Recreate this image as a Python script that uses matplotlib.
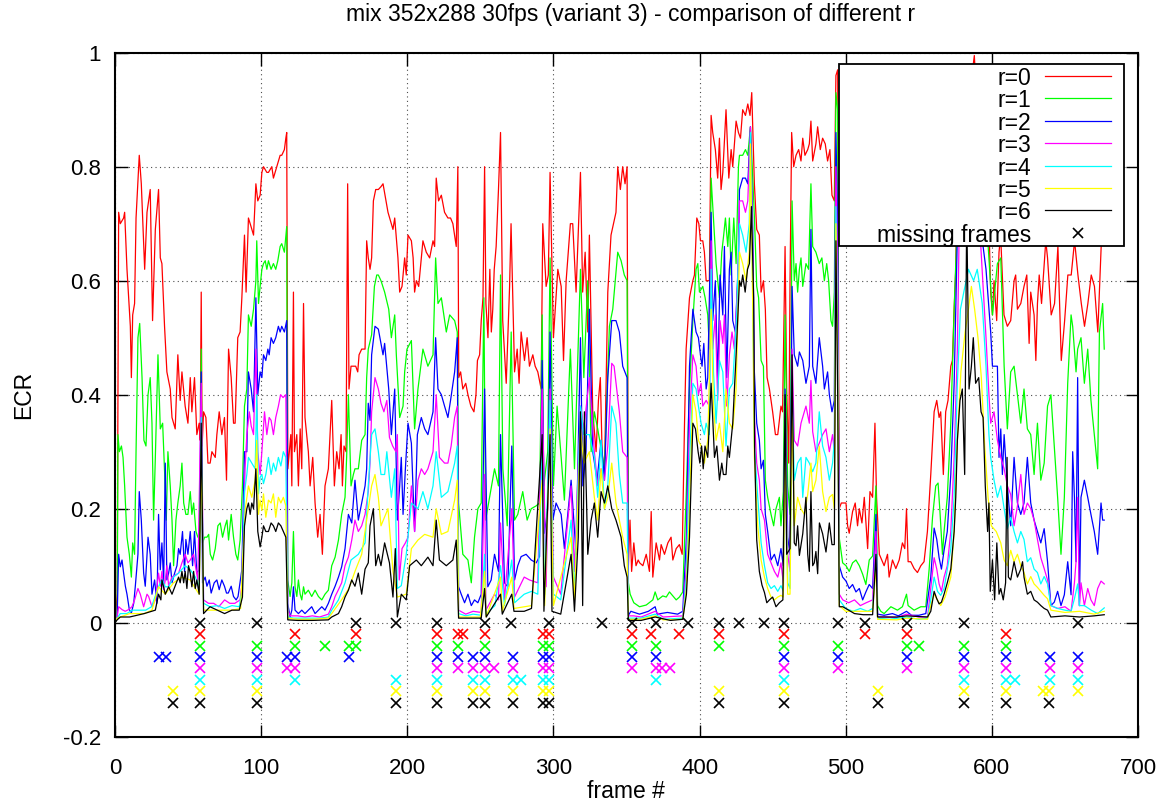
import matplotlib.pyplot as plt
from matplotlib.patches import Rectangle
from matplotlib.lines import Line2D

plt.rcParams['font.family'] = ['Liberation Sans', 'DejaVu Sans']

title = "mix 352x288 30fps (variant 3) - comparison of different r"
labels = ["r=0", "r=1", "r=2", "r=3", "r=4", "r=5", "r=6"]
colors = ["#ff0000", "#00ff00", "#0000ff", "#ff00ff", "#00ffff", "#ffff00", "#000000"]
xticks = [0, 100, 200, 300, 400, 500, 600, 700]
yticks = [-0.2, 0, 0.2, 0.4, 0.6, 0.8, 1]

# (frame, ECR)
r0 = [(0,0.0),(1.5,0.05),(2.5,0.72),(3.6,0.70),(5.9,0.71),(6.6,0.72),(8.2,0.62),(10.5,0.52),(11.2,0.43),(12.1,0.54),(13.4,0.56),(14.4,0.71),(16.6,0.82),(18,0.77),(20.3,0.62),(21.9,0.72),(24.1,0.76),(25.7,0.53),(27.6,0.69),(29.8,0.76),(31,0.64),(32.1,0.63),(33.9,0.52),(35.5,0.44),(37.8,0.41),(39,0.36),(41.2,0.34),(43,0.47),(44.6,0.39),(45.8,0.44),(48,0.38),(49.9,0.35),(51.5,0.43),(52.6,0.37),(54.4,0.43),(56,0.33),(57.6,0.35),(58.3,0.32),(59,0.58),(59.6,0.31),(60.6,0.37),(62.2,0.36),(63.6,0.28),(65.1,0.28),(66.3,0.30),(68.6,0.29),(69.7,0.33),(71.3,0.37),(73.1,0.33),(74.9,0.36),(76.3,0.25),(77.7,0.48),(79.5,0.43),(81.1,0.35),(82.2,0.35),(84,0.50),(85.6,0.51),(86.8,0.57),(88.6,0.68),(89.7,0.58),(91.3,0.71),(92.5,0.70),(94.8,0.68),(96.4,0.77),(97.7,0.74),(99.3,0.75),(100.5,0.79),(101.6,0.80),(103.9,0.79),(105,0.79),(107.3,0.80),(108.4,0.78),(110.7,0.80),(111.8,0.81),(113,0.82),(114.1,0.82),(115.9,0.83),(116.9,0.85),(117.5,0.86),
      (118.3,0.27),(120.3,0.33),(121,0.24),(122.1,0.58),(122.8,0.30),(124.4,0.33),(125.5,0.24),(126.7,0.34),(127.8,0.27),(129,0.56),(130,0.36),(132.3,0.30),(133.5,0.24),(135.3,0.29),(136.9,0.21),(138.7,0.15),(140.3,0.19),(141.9,0.12),(143.7,0.24),(146,0.27),(148.3,0.39),(149.4,0.30),(150.1,0.24),(151.7,0.30),(153.3,0.27),(154.7,0.33),(155.6,0.24),(156.7,0.31),(158.1,0.30),(159.2,0.77),(160.1,0.41),(161.5,0.45),(163.1,0.45),(164.7,0.45),(166.1,0.44),(167,0.47),(168.8,0.48),(171.1,0.48),(172.2,0.67),(173.3,0.64),(174.5,0.62),(175.6,0.64),(176.8,0.74),(178.4,0.76),(180.2,0.76),(182,0.765),
      (183.4,0.77),(186.8,0.72),(190.2,0.69),(191.4,0.71),(193.6,0.64),(194.8,0.58),(196.4,0.59),(198.2,0.64),(199.3,0.61),(200.5,0.68),(202.8,0.67),(204,0.64),(205,0.58),(206.2,0.60),(207.8,0.59),(209.6,0.64),(210.7,0.67),(213,0.65),(215.3,0.64),(217.6,0.67),(218.7,0.66),(219.8,0.78),(221.4,0.74),(223.3,0.75),(225.5,0.72),(227.8,0.71),(229.6,0.71),(231.2,0.70),(233.5,0.66),(234.6,0.80),(235.2,0.43),(236.5,0.44),(238,0.41),(240,0.42),(241.5,0.40),(243.5,0.38),(245.6,0.37),(247,0.40),(248,0.46),(249.5,0.47),(250.6,0.53),(251.8,0.57),(252.9,0.80),(253.8,0.56),(255.2,0.50),(256.5,0.62),(257.5,0.51),(258.5,0.55),(259.5,0.62),(260.8,0.66),(262.4,0.76),(263.8,0.86),(265.3,0.53),(267.7,0.42),(270,0.59),(271,0.70),(273.4,0.44),(275.2,0.48),(276.5,0.42),(277.9,0.51),(280.2,0.46),(282,0.50),(283.6,0.45),(285.9,0.47),(287.5,0.45),(289.3,0.44),(291.6,0.41),(292.7,0.70),(295,0.59),(296.5,0.61),(297.7,0.79),(300,0.50),(303,0.62),(305.3,0.59),(306.9,0.46),(308.7,0.60),(311.6,0.70),(313.2,0.70),(315.5,0.58),(318.5,0.79),(320,0.58),(321.7,0.65),(323.5,0.51),(324.6,0.68),(326.9,0.37),(329.2,0.30),(330.8,0.39),(332.1,0.43),(333.3,0.30),(334.9,0.26),(337.2,0.58),(339.4,0.68),(342.8,0.72),(344,0.80),(345.8,0.76),(347.4,0.80),(349,0.77),(350.4,0.80),(351.3,0.10),
      (352.4,0.18),(353.5,0.09),(355,0.14),(356.5,0.10),(358,0.11),(359,0.105),(361.2,0.10),(363.5,0.12),(365.7,0.09),(366.9,0.195),(368,0.08),(370.3,0.14),(372.6,0.11),(373.7,0.137),(376,0.12),(378.3,0.14),(380.5,0.15),(381.7,0.11),(384,0.13),(386.2,0.137),(388.1,0.12),(389.7,0.35),(390.8,0.48),(393.1,0.57),(395.4,0.60),(396.5,0.61),(398.1,0.71),(399.5,0.70),(400.6,0.67),(402.2,0.67),(403.3,0.65),(404.5,0.60),(405.6,0.60),(406.7,0.60),(407.9,0.89),(409,0.86),(410.8,0.83),(412.4,0.78),(413.6,0.85),(414.7,0.76),(415.9,0.79),(418.1,0.90),(420,0.78),(421.6,0.83),(422.7,0.80),(425,0.88),(426.6,0.86),(428,0.85),(429.5,0.90),(431.4,0.89),(433,0.91),(434.5,0.89),(435.7,0.93),(437.5,0.77),(439.1,0.69),(440.9,0.68),(442.1,0.58),(443.7,0.60),(445,0.55),(446.2,0.43),(447.8,0.41),(450,0.37),(451.9,0.33),(453.5,0.33),(455.7,0.38),(456.8,0.37),(458.5,0.66),(459.6,0.41),(461,0.28),(461.9,0.60),(463,0.86),(464.4,0.80),(466,0.82),(467.8,0.83),(469.4,0.81),(470.6,0.85),(472.1,0.82),(474,0.83),(475.1,0.84),(476.2,0.88),(477.4,0.81),(479.6,0.84),(480.8,0.87),(482.6,0.83),(484.2,0.85),(486,0.84),(487.6,0.81),(489.2,0.83),(490.6,0.75),(492.2,0.74),(493.3,0.96),(494.5,0.97),
      (495.5,0.20),(497,0.21),(500.2,0.21),(501.3,0.17),(502.4,0.157),(504.7,0.195),(506.5,0.21),(508.1,0.17),(509.3,0.20),(511.1,0.175),(512.7,0.22),(515,0.13),(516.6,0.23),(518.4,0.22),(520,0.35),(521.1,0.22),(523,0.12),(526.3,0.10),(528.6,0.12),(529.7,0.08),(532,0.11),(534.3,0.095),(536.6,0.11),(538.8,0.14),(540.4,0.13),(541.6,0.20),(542.7,0.107),(544.5,0.107),(546.8,0.095),(549.1,0.088),(551.4,0.10),(553.6,0.107),(555.9,0.16),(558.2,0.26),(560.5,0.37),(562.3,0.39),(563.9,0.36),(565,0.37),(566.8,0.26),(568.4,0.37),(570,0.39),(571.9,0.45),(573,0.46),(574.2,0.55),(575.3,0.62),(576.4,0.81),(577.6,0.97),(580,0.9),(583,0.85),(585,0.93),(588,0.995),(590,0.9),(593,0.8),(596,0.75),(598,0.7),
      (599.2,0.58),(600.4,0.54),(601.5,0.60),(603.3,0.53),(604.9,0.65),(606,0.68),(608.3,0.54),(610.6,0.52),(612.9,0.53),(615.2,0.60),(616.3,0.61),(617.5,0.55),(619.8,0.56),(622,0.59),(623.9,0.61),(625.5,0.49),(626.6,0.58),(628.9,0.54),(630.1,0.46),(631.2,0.56),(632.4,0.61),(634,0.56),(635.8,0.63),(636.9,0.67),(638.1,0.64),(640.6,0.54),(642.9,0.56),(645.2,0.66),(647.5,0.46),(649.8,0.53),(652,0.61),(654.3,0.61),(656.6,0.67),(658.9,0.61),(661.2,0.56),(663.4,0.52),(665.7,0.56),(668,0.61),(670.2,0.59),(672.5,0.51),(674.8,0.66),(676.9,0.72)]

r1 = [(0,0),(1.5,0.01),(2,0.33),(3,0.30),(4.4,0.31),(5.5,0.29),(6.6,0.24),(8.2,0.15),(9.8,0.12),(11.2,0.08),(12.1,0.14),(13.4,0.12),(14.4,0.30),(15.7,0.50),(16.9,0.525),(18.5,0.43),(19.8,0.32),(21.2,0.31),(22.6,0.40),(24.1,0.43),(25.3,0.35),(26.4,0.18),(27.6,0.29),(29.4,0.47),(31,0.34),(32.6,0.35),(34,0.26),(35.1,0.18),(36.2,0.30),(37.8,0.24),(39,0.18),(40.1,0.10),(41.7,0.18),(43,0.21),(44.6,0.24),(45.8,0.28),(47,0.21),(48.5,0.19),(49.9,0.19),(51.5,0.23),(52.6,0.19),(53.8,0.21),(55.4,0.16),(56.7,0.15),(58.3,0.16),(59,0.48),(59.9,0.14),(61.3,0.15),(62.9,0.15),(64.1,0.155),(65.2,0.12),(66.8,0.11),(68.6,0.13),(70.4,0.17),(72,0.175),(73.6,0.15),(75.4,0.17),(76.6,0.18),(77.7,0.145),(79.5,0.19),(81.1,0.15),(82.7,0.12),(84,0.11),(85.6,0.145),(87.2,0.24),(88.6,0.38),(90.2,0.41),(91.3,0.54),(93.2,0.52),(94.8,0.55),(96.4,0.60),(97,0.67),(98.2,0.56),(99.3,0.59),(100.5,0.62),(101.6,0.63),(102.8,0.635),(103.9,0.62),(105,0.635),(106.8,0.62),(108.4,0.63),(110,0.62),(111.4,0.635),(113,0.66),(114.1,0.665),(115.9,0.65),(117.5,0.695),
      (118.2,0.075),(119.8,0.046),(121,0.07),(122.1,0.16),(123.2,0.063),(124.4,0.046),(125.5,0.075),(126.7,0.05),(127.8,0.04),(129,0.063),(130,0.05),(132.3,0.057),(134.6,0.046),(136.9,0.057),(139.2,0.046),(141.5,0.04),(143.7,0.05),(146,0.057),(148.3,0.10),(150.6,0.115),(152.9,0.145),(155.1,0.19),(157.4,0.22),(158.5,0.29),(159.7,0.40),(161.5,0.24),(163.1,0.26),(164.2,0.27),(166.5,0.27),(168.8,0.32),(171.1,0.33),(172.2,0.43),(173.3,0.48),(175.6,0.505),(177.5,0.59),(179.1,0.61),(180.2,0.61),(182,0.60),
      (184.5,0.58),(187.3,0.55),(189.1,0.50),(191.4,0.54),(192.5,0.47),(194.8,0.36),(197.1,0.38),(198.2,0.44),(199.8,0.48),(202.8,0.495),(205,0.34),(207.3,0.41),(210.7,0.48),(214.1,0.45),(217.6,0.47),(219.4,0.64),(221,0.56),(223.3,0.57),(226.7,0.51),(229,0.54),(232.4,0.53),(234.2,0.51),(235.1,0.21),(238,0.12),(241.5,0.11),(243.8,0.07),(246,0.15),(248.3,0.20),(250.6,0.21),(252.4,0.57),(253.6,0.18),(256.3,0.22),(259.7,0.27),(262.4,0.24),(263.8,0.61),(265.4,0.27),(268.4,0.17),(271.1,0.51),(273.4,0.18),(275.6,0.19),(279,0.23),(282,0.18),(284.8,0.20),(288.2,0.205),(290.5,0.21),(292.3,0.54),(293.4,0.24),(296.1,0.30),(297.7,0.64),(300,0.24),(302.5,0.38),(305.3,0.29),(307.5,0.215),(311.6,0.48),(314.4,0.27),(318.5,0.62),(320.8,0.43),(323.5,0.60),(325.8,0.30),(328,0.37),(330.3,0.34),(334.9,0.27),(338.3,0.52),(340.6,0.55),(344,0.65),(346.3,0.635),(348.5,0.61),(350.4,0.60),(351.3,0.07),
      (352.5,0.05),(355,0.035),(358.9,0.028),(363.5,0.031),(368,0.04),(369.6,0.054),(371.4,0.04),(374.8,0.047),(377.2,0.045),(379.4,0.054),(381.7,0.047),(384,0.04),(386.2,0.045),(388.5,0.054),(390.8,0.22),(393.1,0.41),(395.4,0.53),(397.6,0.62),(398.8,0.63),(399.9,0.58),(402.2,0.59),(403.8,0.57),(405.6,0.54),(406.7,0.48),(407.9,0.78),(409.5,0.71),(411.3,0.63),(413.6,0.57),(415.2,0.65),(416.5,0.68),(417.7,0.71),(419.3,0.66),(420.4,0.71),(421.6,0.61),(423.4,0.71),(425,0.63),(426.6,0.80),(427.3,0.82),(429.5,0.82),(431.4,0.83),(433,0.82),(434.8,0.87),(436.4,0.78),(437.7,0.70),(439.1,0.59),(440.4,0.57),(442.1,0.46),(443.7,0.45),(445,0.25),(446.6,0.22),(448.9,0.19),(450.7,0.17),(452.3,0.20),(454.6,0.22),(455.7,0.17),(457.3,0.23),(458.5,0.54),(460.3,0.24),(461.9,0.19),(463.3,0.74),(464.8,0.60),(466,0.63),(467.1,0.58),(468.3,0.62),(469.4,0.64),(470.6,0.59),(472.8,0.63),(474.6,0.62),(476.2,0.77),(477.4,0.66),(479.6,0.65),(481.9,0.63),(483.7,0.64),(485.4,0.60),(487,0.63),(488.3,0.60),(489.9,0.53),(491,0.52),(492.2,0.58),(493.3,0.93),(494.5,0.9),
      (495.2,0.156),(497.9,0.105),(500.2,0.10),(502.4,0.09),(504.7,0.105),(507,0.11),(509.3,0.10),(511.6,0.085),(513.8,0.067),(516.1,0.11),(518.4,0.117),(520.7,0.24),(521.8,0.03),(524,0.02),(526.3,0.016),(530.9,0.028),(535.4,0.022),(538.8,0.028),(541.6,0.05),(542.7,0.03),(546.8,0.022),(551.4,0.028),(554.8,0.028),(557.1,0.094),(559.4,0.185),(561.6,0.24),(563.2,0.245),(564.6,0.19),(566.2,0.12),(567.3,0.16),(569.5,0.22),(571.9,0.35),(574.2,0.55),(576,0.68),(577.6,0.9),(582,0.85),(586,0.8),(590,0.75),(594,0.7),(597,0.68),
      (600.4,0.54),(603.8,0.63),(606.1,0.64),(608.4,0.45),(610.6,0.34),(612.9,0.44),(615.2,0.45),(617.5,0.40),(619.8,0.35),(622,0.41),(624.3,0.34),(626.6,0.33),(628.9,0.26),(631.2,0.35),(633.5,0.25),(635.8,0.28),(638.1,0.38),(640.4,0.40),(642.7,0.31),(645,0.22),(647.3,0.12),(649.6,0.22),(651.9,0.42),(654.2,0.54),(655.3,0.52),(657.6,0.44),(658.7,0.48),(661,0.50),(663.3,0.42),(665.6,0.48),(667.8,0.39),(670.1,0.33),(672.4,0.27),(673.6,0.51),(675.8,0.56),(676.9,0.48)]

r2 = [(0,0),(1.5,0.01),(2.5,0.12),(3.6,0.098),(4.8,0.11),(5.9,0.087),(7.1,0.064),(8.2,0.05),(9.8,0.023),(11.2,0.017),(12.8,0.034),(13.9,0.064),(15.7,0.12),(16.6,0.23),(18,0.18),(19.6,0.087),(20.7,0.064),(22.6,0.15),(24.1,0.12),(25.3,0.05),(27.1,0.075),(28.7,0.034),(29.8,0.19),(31,0.093),(32.1,0.14),(33.3,0.07),(34.4,0.28),(35.5,0.075),(36.7,0.087),(37.8,0.105),(39,0.07),(40.8,0.087),(42.4,0.1),(43.5,0.13),(44.6,0.12),(46.2,0.16),(47.6,0.09),(48.5,0.146),(49.9,0.12),(51.5,0.16),(53.1,0.1),(54.4,0.16),(56,0.087),(57.6,0.093),(59,0.44),(59.9,0.07),(61.7,0.08),(62.9,0.064),(64.5,0.075),(65.8,0.052),(67.9,0.07),(69.7,0.075),(71.3,0.058),(73.1,0.075),(74.9,0.064),(76.3,0.052),(77.5,0.052),(79.5,0.064),(81.1,0.046),(82.9,0.04),(84.2,0.046),(86.8,0.093),(88.6,0.30),(90.2,0.30),(91.3,0.44),(93.2,0.41),(94.8,0.37),(96.4,0.57),(97.7,0.40),(99.3,0.44),(100.5,0.43),(101.6,0.47),(103.2,0.46),(104.6,0.48),(105.5,0.47),(106.8,0.50),(108.4,0.49),(110,0.50),(111.8,0.52),(113,0.51),(114.1,0.52),(115.9,0.51),(117.5,0.53),
      (118.2,0.034),(119.8,0.01),(121,0.022),(122.1,0.063),(123.2,0.022),(125.5,0.016),(127.8,0.022),(130,0.016),(132.3,0.022),(134.6,0.028),(136.9,0.016),(139.2,0.022),(141.5,0.028),(143.7,0.022),(146,0.034),(148.3,0.05),(150.6,0.064),(152.9,0.08),(155.1,0.098),(157.4,0.13),(159.7,0.19),(162,0.175),(164.2,0.25),(166.5,0.18),(168.8,0.21),(171.1,0.24),(172.2,0.27),(173.3,0.385),(174.5,0.355),(175.6,0.47),(177.9,0.52),(180.2,0.515),(182,0.49),
      (183.4,0.47),(184.5,0.49),(187.3,0.41),(189.1,0.33),(191.4,0.41),(193.2,0.18),(194.8,0.24),(195.9,0.29),(197.1,0.19),(198.7,0.27),(200.5,0.35),(202.8,0.315),(205,0.16),(206.9,0.33),(209.6,0.36),(211.9,0.34),(214.1,0.33),(217.6,0.37),(219.4,0.50),(221,0.41),(223.3,0.40),(225.5,0.38),(227.8,0.36),(229.6,0.39),(232.4,0.44),(234.2,0.50),(235.1,0.063),(236.9,0.05),(239.2,0.035),(241.5,0.05),(243.8,0.03),(246,0.04),(248.3,0.035),(250.6,0.05),(252.9,0.41),(255.1,0.063),(257.4,0.075),(259.7,0.12),(262.4,0.09),(263.8,0.33),(266.5,0.07),(268.8,0.063),(271.5,0.31),(273.4,0.075),(275.6,0.1),(277.9,0.116),(281.3,0.12),(284.8,0.11),(288.2,0.105),(290.5,0.116),(292.3,0.46),(293.9,0.157),(296.1,0.2),(297.7,0.51),(299.6,0.18),(301.8,0.21),(305.3,0.19),(307.5,0.13),(312.1,0.25),(315.5,0.12),(318.5,0.50),(320.1,0.24),(322.3,0.30),(324.6,0.55),(326.9,0.30),(329.9,0.25),(332.6,0.32),(334.9,0.25),(337.2,0.43),(339.9,0.53),(342.8,0.53),(345.1,0.51),(347.4,0.45),(350.4,0.43),(351.3,0.013),
      (353,0.02),(358.9,0.015),(365,0.02),(369.6,0.028),(371,0.015),(378,0.018),(385,0.015),(388.5,0.02),(391,0.15),(393.1,0.45),(395.4,0.55),(397.6,0.51),(399.2,0.50),(400.6,0.47),(401.7,0.45),(402.9,0.49),(404.5,0.41),(405.6,0.43),(407.9,0.72),(409,0.53),(410.8,0.60),(412.4,0.42),(414,0.61),(415.9,0.54),(417,0.66),(418.6,0.43),(420.4,0.62),(421.6,0.65),(422.7,0.53),(424.5,0.51),(426.6,0.64),(427.3,0.76),(429.5,0.78),(431.4,0.78),(433,0.77),(434.8,0.87),(436.4,0.69),(437.5,0.44),(439.1,0.35),(440.9,0.32),(442.1,0.27),(443.7,0.285),(445,0.19),(446.6,0.16),(448.9,0.11),(451.2,0.12),(453.5,0.10),(455.7,0.13),(457.3,0.10),(458.5,0.41),(460.3,0.15),(461.9,0.12),(463.3,0.59),(464.8,0.47),(467.1,0.45),(468.3,0.475),(470.6,0.46),(472.8,0.42),(475.1,0.45),(476.2,0.69),(477.4,0.45),(479.6,0.42),(481.9,0.50),(484.2,0.45),(485.4,0.41),(487.6,0.44),(488.8,0.40),(490.6,0.37),(492.2,0.39),(493.3,0.86),(494.5,0.7),
      (495.6,0.10),(497.9,0.08),(500.2,0.073),(502.4,0.06),(504.7,0.067),(507,0.054),(509.3,0.06),(511.6,0.04),(513.8,0.054),(516.1,0.067),(518.4,0.06),(520.7,0.19),(521.8,0.015),(526.3,0.013),(532,0.016),(536,0.012),(541.6,0.02),(545,0.013),(550,0.013),(554.8,0.016),(558.2,0.08),(560.5,0.166),(562.3,0.146),(563.9,0.114),(565.5,0.094),(567.3,0.127),(569.5,0.16),(571.9,0.26),(574.2,0.42),(576.4,0.68),(577.6,0.85),(581,0.8),(585,0.85),(588,0.78),(592,0.7),(596,0.62),(598,0.55),
      (599.2,0.51),(600.4,0.45),(603.8,0.45),(604.9,0.29),(606.1,0.34),(607.2,0.26),(608.4,0.33),(610.6,0.24),(612.9,0.17),(615.2,0.29),(617.5,0.21),(619.8,0.19),(622,0.21),(624.3,0.29),(626.6,0.21),(628.9,0.18),(631.2,0.16),(633.5,0.14),(635.8,0.165),(638.1,0.107),(640.4,0.03),(642.7,0.036),(645,0.055),(647.3,0.03),(649.6,0.049),(651.9,0.107),(654.2,0.049),(655.3,0.30),(656.5,0.22),(657.6,0.107),(658.7,0.43),(659.9,0.03),(661,0.22),(663.3,0.25),(665.6,0.22),(667.8,0.19),(670.1,0.16),(672.4,0.12),(674.7,0.21),(675.8,0.18),(676.9,0.18)]

r3 = [(0,0),(1.5,0.01),(2.5,0.028),(4.8,0.023),(7,0.02),(9.3,0.023),(11.6,0.028),(13.4,0.04),(15.7,0.06),(17.3,0.05),(19.6,0.028),(21.9,0.05),(23,0.046),(25.3,0.028),(27.6,0.04),(29.8,0.087),(31,0.064),(32.1,0.09),(33.3,0.058),(34.4,0.075),(35.5,0.1),(36.7,0.064),(38.9,0.08),(43.5,0.087),(45.8,0.105),(48,0.12),(49.9,0.105),(51.5,0.11),(53.8,0.12),(55,0.1),(56.7,0.075),(59,0.42),(60.6,0.04),(64,0.034),(67.5,0.034),(71,0.028),(75,0.04),(78.5,0.034),(82,0.034),(85.6,0.04),(87.2,0.075),(89,0.27),(90.2,0.33),(91.9,0.37),(93.2,0.345),(94.8,0.33),(96.4,0.48),(97.7,0.30),(99.3,0.26),(100.5,0.30),(102.3,0.37),(103.9,0.33),(105.5,0.36),(106.8,0.355),(108.4,0.33),(110,0.36),(111.8,0.38),(113.3,0.40),(115,0.395),(116.9,0.40),
      (118.2,0.022),(120,0.012),(125,0.012),(130,0.01),(135,0.012),(140,0.01),(146,0.015),(148.3,0.028),(150.6,0.046),(152.9,0.058),(155.1,0.07),(157.4,0.1),(159.7,0.115),(162,0.145),(164.2,0.18),(166.5,0.16),(168.8,0.17),(171.1,0.19),(173.3,0.23),(174.5,0.28),(175.6,0.37),(177.9,0.43),(180.2,0.41),(182,0.385),
      (184,0.37),(186,0.39),(187.8,0.325),(190,0.31),(192.2,0.30),(193.2,0.33),(194.5,0.075),(195,0.09),(196.4,0.13),(198.7,0.14),(200.5,0.15),(202.8,0.24),(205,0.16),(207.3,0.25),(209.6,0.27),(211.9,0.26),(214.1,0.27),(217.6,0.30),(219.8,0.40),(222,0.29),(225.5,0.28),(227.8,0.28),(230,0.31),(232.4,0.36),(234.2,0.38),(235.1,0.022),(240,0.015),(245,0.02),(250.6,0.018),(252.9,0.26),(253.8,0.022),(259.7,0.05),(262.4,0.04),(263.8,0.175),(266.5,0.04),(271.5,0.2),(273.4,0.045),(280,0.08),(283.6,0.075),(289.3,0.07),(292.3,0.41),(295,0.063),(297.7,0.41),(300,0.08),(305,0.05),(312.1,0.24),(314.4,0.09),(318.5,0.38),(320.8,0.34),(324.6,0.43),(328,0.30),(330.3,0.24),(332.6,0.27),(334.9,0.25),(337.2,0.31),(339.9,0.455),(341.5,0.45),(345.1,0.37),(347.4,0.30),(350.4,0.29),(351.3,0.012),
      (355,0.012),(360,0.01),(369.6,0.02),(375,0.01),(388.5,0.012),(391,0.1),(393.1,0.35),(395.4,0.47),(397.6,0.45),(399.2,0.40),(401,0.42),(402.2,0.38),(404.5,0.39),(406.7,0.38),(407.9,0.67),(409,0.48),(410.8,0.54),(412.4,0.39),(414,0.53),(415.9,0.49),(417,0.54),(418.6,0.38),(420.4,0.47),(422.2,0.51),(423.8,0.48),(426.2,0.60),(427.3,0.74),(429.5,0.74),(431.4,0.72),(433,0.74),(434.8,0.87),(436.4,0.63),(437.5,0.36),(439.1,0.28),(440.9,0.25),(442.1,0.20),(444.4,0.18),(446.6,0.12),(448.9,0.105),(451.2,0.09),(453.5,0.08),(455.7,0.105),(457.3,0.07),(458.5,0.38),(460.3,0.12),(461.9,0.09),(463.3,0.48),(464.8,0.32),(467.1,0.31),(469.4,0.35),(471.7,0.37),(472.8,0.38),(475.1,0.35),(476.2,0.425),(477.4,0.335),(479.6,0.30),(481.9,0.315),(484.2,0.33),(486.5,0.34),(488.8,0.30),(491,0.33),(492.2,0.30),(493.3,0.80),(494.5,0.6),
      (495.6,0.05),(498,0.04),(502,0.035),(506,0.04),(510,0.03),(514,0.035),(518.4,0.04),(520.7,0.16),(521.8,0.01),(526.3,0.01),(535,0.009),(541.6,0.015),(550,0.01),(556,0.01),(558.2,0.06),(560.5,0.114),(562.3,0.094),(563.9,0.068),(565.5,0.055),(567.3,0.08),(569.5,0.10),(571.9,0.16),(574.2,0.29),(576.4,0.48),(577.6,0.68),(581,0.72),(585,0.8),(588,0.72),(592,0.68),(596,0.5),(598,0.4),
      (599.2,0.35),(601.5,0.37),(603.8,0.32),(606.1,0.29),(608.4,0.27),(610.6,0.24),(612.9,0.225),(615.2,0.17),(617.5,0.205),(619.8,0.26),(622,0.19),(624.3,0.21),(626.6,0.20),(628.9,0.18),(631.2,0.146),(633.5,0.114),(635.8,0.095),(638.1,0.075),(640.4,0.03),(645,0.025),(650,0.028),(654.2,0.02),(656.5,0.07),(657.6,0.107),(658.7,0.22),(659.9,0.03),(661,0.07),(663.3,0.03),(665.6,0.06),(667.8,0.04),(670.1,0.03),(672.4,0.06),(674.7,0.073),(676.9,0.068)]

r4 = [(0,0),(1.5,0.008),(3.6,0.016),(8,0.016),(12,0.022),(16,0.022),(21,0.022),(25,0.028),(29.8,0.063),(32.1,0.076),(34.4,0.063),(36.7,0.063),(40,0.08),(43.5,0.087),(48,0.1),(51.5,0.093),(55,0.08),(57.6,0.063),(59,0.36),(60.6,0.034),(65,0.028),(70,0.03),(75,0.025),(80,0.03),(85,0.028),(87,0.06),(88.6,0.23),(90.2,0.26),(91.3,0.29),(93.6,0.28),(95.9,0.27),(97,0.40),(98.2,0.226),(99.3,0.255),(100.5,0.26),(101.6,0.244),(103.2,0.26),(105,0.29),(106.8,0.26),(108.4,0.28),(110,0.266),(111.8,0.29),(113.5,0.275),(115.2,0.30),(116.9,0.29),
      (118.2,0.01),(122,0.008),(130,0.008),(140,0.008),(146,0.01),(148.3,0.022),(152.9,0.04),(157.4,0.07),(161.5,0.11),(166.5,0.12),(171.1,0.14),(173.3,0.24),(175.6,0.33),(177.9,0.34),(180.2,0.30),(182,0.26),
      (184.5,0.26),(186,0.30),(189.1,0.22),(191.4,0.27),(193.2,0.06),(195.9,0.065),(199.3,0.12),(202.8,0.21),(207.3,0.20),(210.7,0.23),(214.1,0.20),(217.6,0.24),(219.8,0.30),(223.3,0.22),(227.8,0.23),(232.4,0.28),(234.2,0.31),(235.1,0.016),(240,0.012),(245,0.015),(250.6,0.013),(252.9,0.12),(253.8,0.015),(260,0.03),(263.8,0.1),(266.5,0.03),(271.5,0.11),(273.4,0.035),(280,0.05),(285,0.055),(289.3,0.05),(292.3,0.30),(294,0.05),(297.7,0.39),(300,0.05),(305,0.04),(312.1,0.18),(314.4,0.05),(318.5,0.38),(320.8,0.33),(324.6,0.33),(328,0.29),(330.3,0.22),(332.6,0.32),(334.9,0.20),(337.2,0.24),(339.9,0.38),(342.8,0.35),(345.1,0.26),(347.4,0.21),(350.4,0.21),(351.3,0.008),
      (355,0.008),(360,0.008),(369.6,0.015),(375,0.006),(388.5,0.008),(391,0.08),(393.1,0.28),(395.4,0.42),(397.6,0.41),(399.2,0.38),(401,0.35),(403.3,0.33),(404.5,0.35),(406.7,0.33),(407.9,0.62),(409.5,0.44),(411.3,0.35),(413.6,0.46),(415.9,0.44),(418.1,0.31),(420.4,0.41),(422.7,0.42),(425.4,0.54),(427.3,0.70),(429.5,0.68),(431.8,0.65),(434,0.70),(434.8,0.86),(436.4,0.59),(437.5,0.31),(439.8,0.22),(442.1,0.14),(444.4,0.1),(446.6,0.07),(448.9,0.06),(451.2,0.065),(453.5,0.055),(455.7,0.065),(457.3,0.055),(458.5,0.35),(460.3,0.07),(461.9,0.06),(463.3,0.41),(464.8,0.25),(467.1,0.28),(469.4,0.29),(470.6,0.22),(472.8,0.29),(475.1,0.28),(477.4,0.265),(479.6,0.28),(481.9,0.37),(484.2,0.31),(486.5,0.29),(488.8,0.25),(491,0.28),(492.2,0.32),(493.3,0.73),(494.5,0.5),
      (495.6,0.04),(500,0.025),(505,0.02),(510,0.025),(515,0.02),(518.4,0.025),(520.7,0.12),(521.8,0.008),(530,0.006),(541.6,0.01),(550,0.006),(556,0.008),(558.2,0.04),(560.5,0.08),(562.8,0.055),(565,0.048),(567.3,0.06),(571.9,0.13),(574.2,0.22),(576.4,0.42),(578.5,0.55),(580.8,0.58),(584,0.62),(587.5,0.60),(590,0.62),(593.4,0.56),(596,0.45),(598,0.33),
      (599.2,0.29),(601.5,0.25),(603.8,0.22),(606.1,0.24),(608.4,0.20),(610.6,0.165),(612.9,0.185),(615.2,0.16),(617.5,0.14),(619.8,0.16),(622,0.146),(624.3,0.107),(626.6,0.114),(628.9,0.094),(631.2,0.088),(633.5,0.068),(635.8,0.081),(638.1,0.068),(640.4,0.03),(645,0.025),(650,0.022),(654.2,0.02),(656.5,0.042),(658.7,0.068),(660,0.03),(663.3,0.03),(668,0.022),(672.4,0.016),(676.9,0.026)]

r5 = [(0,0),(1.5,0.008),(3.6,0.01),(10,0.016),(20,0.016),(25.3,0.022),(29.8,0.063),(34.4,0.05),(40,0.07),(45.8,0.08),(51.5,0.075),(55,0.06),(57.6,0.05),(59,0.3),(60.6,0.022),(70,0.022),(80,0.022),(86,0.025),(87.5,0.12),(89.2,0.2),(91.3,0.24),(93.6,0.22),(95.9,0.25),(97,0.32),(98.2,0.19),(99.3,0.215),(100.5,0.197),(101.6,0.226),(103.2,0.185),(105,0.215),(106.8,0.21),(108.4,0.226),(110,0.185),(111.8,0.22),(113.5,0.21),(115.2,0.22),(116.9,0.205),
      (118.2,0.008),(125,0.006),(135,0.006),(146,0.008),(148.3,0.016),(155,0.04),(160,0.06),(164.2,0.09),(168.8,0.12),(173.3,0.2),(175.6,0.24),(177.9,0.26),(180.2,0.22),(182,0.17),
      (186.8,0.20),(190.2,0.09),(193.2,0.045),(199.3,0.05),(202.8,0.13),(207.3,0.145),(211.9,0.155),(217.6,0.15),(219.8,0.2),(223.3,0.155),(227.8,0.16),(232.4,0.215),(234.2,0.25),(235.1,0.01),(250,0.01),(252.9,0.09),(254,0.01),(263.8,0.08),(265,0.02),(271.5,0.08),(273,0.025),(285,0.03),(292.3,0.25),(294,0.03),(297.7,0.34),(300,0.03),(312.1,0.15),(314.4,0.04),(318.5,0.34),(320.8,0.28),(324.6,0.30),(328,0.22),(330.3,0.18),(332.6,0.27),(334.9,0.2),(337.2,0.22),(339.9,0.28),(342.8,0.21),(345.1,0.18),(347.4,0.15),(350.4,0.12),(351.3,0.006),
      (360,0.006),(369.6,0.012),(375,0.005),(388.5,0.006),(391,0.06),(393.1,0.2),(395.4,0.4),(397.6,0.37),(399.2,0.32),(401,0.31),(403.3,0.28),(405.6,0.32),(407.9,0.55),(409.5,0.38),(411.3,0.32),(413.6,0.35),(415.9,0.30),(418.1,0.41),(420.4,0.35),(422.7,0.34),(425,0.41),(427.3,0.65),(429.5,0.63),(431.8,0.60),(434,0.65),(434.8,0.84),(436.4,0.55),(437.5,0.29),(439.8,0.17),(442.1,0.11),(444.4,0.08),(446.6,0.06),(448.9,0.045),(451.2,0.04),(453.5,0.045),(455.7,0.048),(457.3,0.045),(458.5,0.30),(460.3,0.05),(461.9,0.05),(463.3,0.38),(464.8,0.17),(467.1,0.22),(469.4,0.20),(471.7,0.19),(474,0.225),(476.2,0.28),(477.4,0.23),(479.6,0.25),(481.9,0.31),(484.2,0.23),(486.5,0.195),(488.8,0.22),(491,0.225),(492.2,0.20),(493.3,0.7),(494.5,0.45),
      (495.6,0.03),(500,0.02),(510,0.02),(518.4,0.02),(520.7,0.1),(521.8,0.006),(535,0.005),(541.6,0.008),(556,0.006),(558.2,0.03),(560.5,0.05),(565,0.03),(568,0.045),(571.9,0.08),(574.2,0.16),(576.4,0.32),(578.8,0.44),(581.7,0.51),(584,0.55),(586,0.59),(588.2,0.55),(590.5,0.50),(592.8,0.43),(595.1,0.31),(597.4,0.22),
      (599.6,0.17),(603,0.16),(606.1,0.14),(608.4,0.11),(610.6,0.10),(612.9,0.127),(615.2,0.107),(617.5,0.12),(619.8,0.10),(622,0.088),(624.3,0.068),(626.6,0.081),(628.9,0.068),(631.2,0.062),(633.5,0.055),(635.8,0.048),(638.1,0.042),(640.4,0.022),(650,0.018),(660,0.02),(670,0.015),(676.9,0.02)]

r6 = [(0,0),(1.5,0.005),(3.6,0.01),(10,0.01),(20,0.016),(27.6,0.022),(29.8,0.05),(31.4,0.04),(32.1,0.075),(34.4,0.05),(36.7,0.063),(39,0.05),(43.5,0.08),(44.6,0.07),(45.8,0.09),(47,0.07),(48,0.09),(49.2,0.06),(50.3,0.1),(51.5,0.087),(52.6,0.063),(53.8,0.09),(54.9,0.06),(56,0.075),(57.6,0.05),(59,0.35),(60.6,0.016),(65,0.028),(70,0.022),(75,0.016),(80,0.022),(85,0.022),(87.2,0.045),(88.6,0.17),(90.2,0.20),(91.3,0.21),(92.5,0.19),(93.6,0.21),(94.8,0.20),(96.4,0.27),(97.7,0.16),(99.3,0.133),(100.5,0.15),(101.6,0.17),(103.2,0.16),(105,0.16),(106.8,0.175),(108.4,0.17),(110,0.16),(111.8,0.175),(113.5,0.17),(115.2,0.16),(116.9,0.15),
      (118.2,0.005),(125,0.004),(135,0.004),(146,0.005),(148.3,0.01),(152.9,0.016),(155.1,0.028),(157.4,0.045),(159.7,0.057),(162,0.075),(164.2,0.064),(166.5,0.087),(168.8,0.05),(171.1,0.094),(173.3,0.105),(174.5,0.17),(176.8,0.2),(178.4,0.1),(180.2,0.12),(182,0.1),
      (184.5,0.14),(187.8,0.105),(190.2,0.045),(191.8,0.13),(193.2,0.01),(195.9,0.05),(199.3,0.04),(201.6,0.1),(206.2,0.11),(209.6,0.1),(214.1,0.115),(217.6,0.10),(219.8,0.18),(222,0.11),(226.7,0.1),(231.2,0.11),(233.5,0.145),(235.1,0.008),(245,0.008),(250.6,0.008),(252.9,0.06),(254,0.01),(263.8,0.05),(265,0.015),(271.5,0.05),(273,0.02),(280,0.02),(285,0.025),(292.3,0.33),(293.5,0.02),(297.7,0.33),(299,0.02),(305,0.015),(312.1,0.12),(314.4,0.02),(317,0.15),(318.5,0.37),(320,0.03),(321.2,0.37),(323.5,0.12),(325.8,0.18),(328,0.21),(330.3,0.15),(332.6,0.23),(334.9,0.21),(337.2,0.24),(339.9,0.2),(342.8,0.18),(346.3,0.15),(348.5,0.10),(350.4,0.08),(351.3,0.004),
      (360,0.004),(369.6,0.01),(380,0.004),(388.5,0.006),(391,0.05),(393.1,0.15),(395.4,0.35),(397.2,0.34),(399,0.30),(400.2,0.28),(401.4,0.31),(402.5,0.27),(403.7,0.31),(405.6,0.29),(407.9,0.42),(410.2,0.29),(411.8,0.31),(413.6,0.25),(415.2,0.28),(416.3,0.26),(418.1,0.26),(419.3,0.31),(420.4,0.29),(422.7,0.35),(425,0.47),(427.3,0.60),(428.4,0.59),(429.5,0.61),(431.2,0.58),(432.8,0.62),(434.1,0.63),(435.5,0.73),(437,0.57),(437.7,0.30),(439.1,0.145),(440.9,0.09),(442.7,0.066),(444.4,0.053),(446,0.035),(447.8,0.04),(450,0.045),(452.3,0.028),(454.6,0.035),(457,0.04),(458.5,0.40),(459.6,0.12),(461.9,0.13),(463.3,0.47),(464.8,0.14),(466,0.135),(467.1,0.17),(468.3,0.118),(470.6,0.156),(472.8,0.22),(474,0.12),(475.1,0.09),(476.2,0.23),(477.4,0.10),(478.5,0.105),(479.6,0.125),(480.8,0.086),(482,0.175),(484.2,0.156),(486.5,0.124),(488.8,0.175),(490.6,0.137),(492.2,0.137),(493.3,0.67),(494.5,0.4),
      (495.6,0.028),(498,0.028),(502,0.022),(506,0.016),(512,0.014),(518.4,0.014),(520.7,0.12),(521.8,0.01),(535,0.01),(541.6,0.012),(556,0.01),(558.2,0.02),(560.5,0.055),(562.3,0.042),(563.9,0.033),(565.5,0.036),(567.3,0.05),(569.5,0.07),(571.9,0.094),(574.2,0.16),(575.3,0.22),(576.4,0.32),(578.2,0.39),(579.8,0.41),(581.4,0.26),(582.8,0.72),(584.4,0.41),(586,0.45),(587.3,0.50),(588.9,0.42),(591,0.43),(592.6,0.37),(594,0.36),(595.5,0.24),(597.1,0.16),(598,0.21),
      (598.9,0.055),(600.4,0.11),(601.9,0.04),(603.4,0.14),(604.9,0.05),(606.1,0.06),(607.8,0.04),(609.4,0.07),(610.4,0.29),(611.3,0.08),(612.9,0.075),(615.2,0.107),(617.5,0.08),(619.8,0.094),(621,0.107),(622,0.08),(624.3,0.05),(626.6,0.055),(628.9,0.04),(631.2,0.036),(633.5,0.03),(635.8,0.025),(638.1,0.022),(640.4,0.01),(650,0.012),(660,0.01),(670,0.012),(676.9,0.014)]

# missing frames: all r, then per r (drawn in rows below zero)
miss_all = [58, 97, 165, 192, 220, 253, 271, 297, 333, 354, 370, 392, 413, 427, 444, 458, 495, 513, 542, 581, 659]
miss_r0 = [58, 123, 165, 220, 235, 238, 253, 293, 297, 354, 367, 386, 413, 458, 513, 542, 610]
miss_r1 = [58, 97, 123, 144, 160, 165, 220, 235, 253, 293, 297, 354, 370, 413, 458, 495, 542, 550, 581, 610]
miss_r2 = [30, 35, 58, 97, 118, 123, 160, 220, 235, 245, 253, 272, 293, 297, 354, 370, 458, 495, 542, 581, 610, 640, 659]
miss_r3 = [58, 97, 118, 123, 220, 235, 245, 253, 259, 272, 293, 297, 354, 370, 374, 380, 458, 495, 542, 581, 610, 640, 659]
miss_r4 = [58, 97, 123, 192, 220, 245, 253, 272, 278, 293, 297, 370, 458, 581, 610, 616, 640, 659]
miss_r5 = [40, 58, 97, 192, 220, 245, 253, 272, 293, 297, 413, 458, 522, 581, 610, 635, 639, 659]
miss_r6 = [40, 58, 97, 192, 220, 245, 253, 272, 293, 297, 413, 458, 522, 581, 610, 639]

series = [r0, r1, r2, r3, r4, r5, r6]
missing = [miss_r0, miss_r1, miss_r2, miss_r3, miss_r4, miss_r5, miss_r6]

W, H = 1169, 808
FS = 16.5

fig = plt.figure(figsize=(W / 100, H / 100), dpi=100)
ax = fig.add_axes([115 / W, 1 - 736.7 / H, 1023 / W, 684 / H])

for i, pts in enumerate(series):
    f = [p[0] for p in pts]
    v = [p[1] for p in pts]
    ax.plot(f, v, color=colors[i], lw=0.9)

for i, fr in enumerate(missing):
    ax.plot(fr, [-0.02 * (i + 1)] * len(fr), 'x', color=colors[i], ms=7.5, mew=1.2)
ax.plot(miss_all, [0] * len(miss_all), 'x', color='k', ms=7.5, mew=1.2)

ax.set_xlim(0, 700)
ax.set_ylim(-0.2, 1)
ax.set_xticks(xticks)
ax.set_xticklabels([str(t) for t in xticks])
ax.set_yticks(yticks)
ax.set_yticklabels(['%g' % t for t in yticks])
ax.tick_params(direction='in', length=9, width=1, top=True, right=True, labelsize=16)
ax.tick_params(axis='x', pad=15)
ax.tick_params(axis='y', pad=10)
ax.grid(True, linestyle=(0, (1, 3)), color='0.3', lw=0.8)
ax.set_axisbelow(True)
for s in ax.spines.values():
    s.set_linewidth(1.5)

fig.text(631 / W, 1 - 15 / H, title, ha='center', va='center', fontsize=FS)
fig.text(24 / W, 1 - 395 / H, "ECR", rotation=90, ha='center', va='center', fontsize=FS)
fig.text(626 / W, 1 - 792 / H, "frame #", ha='center', va='center', fontsize=FS)

# gnuplot style key box, top right inside the plot
def fx(px):
    return px / W

def fy(py):
    return 1 - py / H

fig.add_artist(Rectangle((fx(839), fy(246)), fx(1124) - fx(839), fy(64) - fy(246),
                         transform=fig.transFigure, facecolor='white', edgecolor='black',
                         lw=1.3, zorder=5))
for i, lab in enumerate(labels):
    py = 76 + 22.4 * i
    fig.text(fx(1031), fy(py), lab, ha='right', va='center_baseline', fontsize=FS, zorder=6)
    fig.add_artist(Line2D([fx(1045), fx(1111)], [fy(py), fy(py)], color=colors[i], lw=0.9,
                          transform=fig.transFigure, zorder=6))
py = 76 + 22.4 * 7
fig.text(fx(1031), fy(py), "missing frames", ha='right', va='center_baseline', fontsize=FS, zorder=6)
fig.add_artist(Line2D([fx(1078)], [fy(py)], marker='x', color='k', ms=7.5, mew=1.2, ls='none',
                      transform=fig.transFigure, zorder=6))

fig.savefig('out.png', dpi=100)
